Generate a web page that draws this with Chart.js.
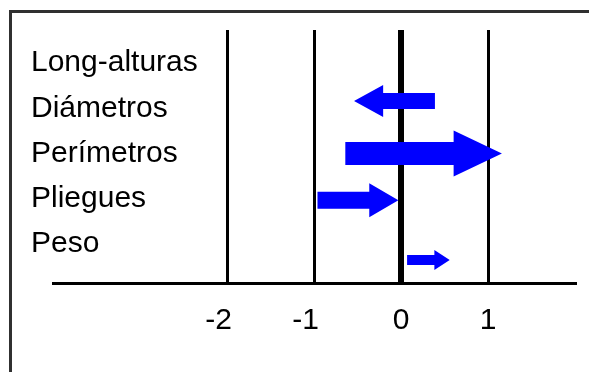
<!DOCTYPE html>
<html>
<head>
<meta charset="utf-8">
<script src="https://cdn.jsdelivr.net/npm/chart.js@4"></script>
<style>
  body { margin: 0; background: #fff; }
  #wrap { position: relative; width: 589px; height: 372px; overflow: hidden; }
  #frame {
    position: absolute; left: 9px; top: 10px; width: 600px; height: 400px;
    border-left: 3px solid #303030; border-top: 3px solid #303030;
  }
  #chart { position: absolute; left: 0; top: 0; }
</style>
</head>
<body>
<div id="wrap">
  <div id="frame"></div>
  <canvas id="chart" width="589" height="372"></canvas>
</div>
<script>
// Row labels, top to bottom
const categories = ['Long-alturas', 'Diámetros', 'Perímetros', 'Pliegues', 'Peso'];

// Arrows: tail value, head value, row position and relative weight
const arrowLabels = ['Diámetros', 'Perímetros', 'Pliegues', 'Peso'];
const arrowFrom = [0.39, -0.64, -0.96, 0.07];
const arrowTo = [-0.54, 1.16, -0.03, 0.56];
const arrowRow = [4.16, 3.0, 1.97, 0.65];
const arrowWeight = [1.6, 2.3, 1.7, 1.0];

// X axis ticks
const xTicks = [-2, -1, 0, 1];
const xTickLabels = ['-2', '-1', '0', '1'];

const BLUE = '#0000ff';
const FONT = { family: '"Liberation Sans", Arial, sans-serif', size: 30 };

// Block arrows drawn from the dataset points on the chart scales
const arrowPlugin = {
  id: 'blockArrows',
  afterDatasetsDraw(chart) {
    const xs = chart.scales.x;
    const ys = chart.scales.y;
    const ctx = chart.ctx;
    chart.data.datasets[0].data.forEach(p => {
      const x0 = xs.getPixelForValue(p.from);
      const x1 = xs.getPixelForValue(p.x);
      const y = ys.getPixelForValue(p.y);
      const t = p.w * 10;
      const dir = x1 > x0 ? 1 : -1;
      const len = Math.abs(x1 - x0);
      const headLen = Math.min(2.1 * t, 0.36 * len);
      const headHalf = t;
      const xb = x1 - dir * headLen;
      ctx.save();
      ctx.fillStyle = BLUE;
      ctx.beginPath();
      ctx.moveTo(x0, y - t / 2);
      ctx.lineTo(xb, y - t / 2);
      ctx.lineTo(xb, y - headHalf);
      ctx.lineTo(x1, y);
      ctx.lineTo(xb, y + headHalf);
      ctx.lineTo(xb, y + t / 2);
      ctx.lineTo(x0, y + t / 2);
      ctx.closePath();
      ctx.fill();
      ctx.restore();
    });
  }
};

new Chart(document.getElementById('chart'), {
  type: 'scatter',
  data: {
    datasets: [{
      label: 'Cambio',
      data: arrowLabels.map((name, i) => ({
        x: arrowTo[i], y: arrowRow[i], from: arrowFrom[i], w: arrowWeight[i], name: name
      })),
      pointRadius: 0,
      pointHoverRadius: 0
    }]
  },
  options: {
    responsive: false,
    animation: false,
    layout: { padding: { left: 31, right: 14, top: 30, bottom: 0 } },
    plugins: { legend: { display: false }, tooltip: { enabled: false } },
    scales: {
      x: {
        type: 'linear',
        min: -4,
        max: 2,
        afterBuildTicks: scale => { scale.ticks = xTicks.map(v => ({ value: v })); },
        afterFit: scale => { scale.height = 89; },
        grid: {
          color: '#000',
          lineWidth: c => (c.tick && c.tick.value === 0 ? 6 : 3),
          drawTicks: false
        },
        border: { display: true, color: '#000', width: 3 },
        ticks: {
          color: '#000',
          font: FONT,
          padding: 20,
          maxRotation: 0,
          autoSkip: false,
          // negative labels get trailing spacing so the digit sits on its line
          callback: (value, index) => {
            const label = xTickLabels[index];
            return value < 0 ? label + '  ' : label;
          }
        }
      },
      y: {
        type: 'linear',
        min: 0.14,
        max: 5.73,
        afterBuildTicks: scale => {
          scale.ticks = categories.map((c, i) => ({ value: categories.length - i }));
        },
        afterFit: scale => { scale.width = 22; },
        grid: { display: false, drawTicks: false },
        border: { display: false },
        ticks: {
          color: '#000',
          font: FONT,
          // mirrored labels are drawn unclipped, pulled back to the left margin
          mirror: true,
          crossAlign: 'near',
          padding: -22,
          autoSkip: false,
          callback: value => categories[categories.length - value]
        }
      }
    }
  },
  plugins: [arrowPlugin]
});
</script>
</body>
</html>
